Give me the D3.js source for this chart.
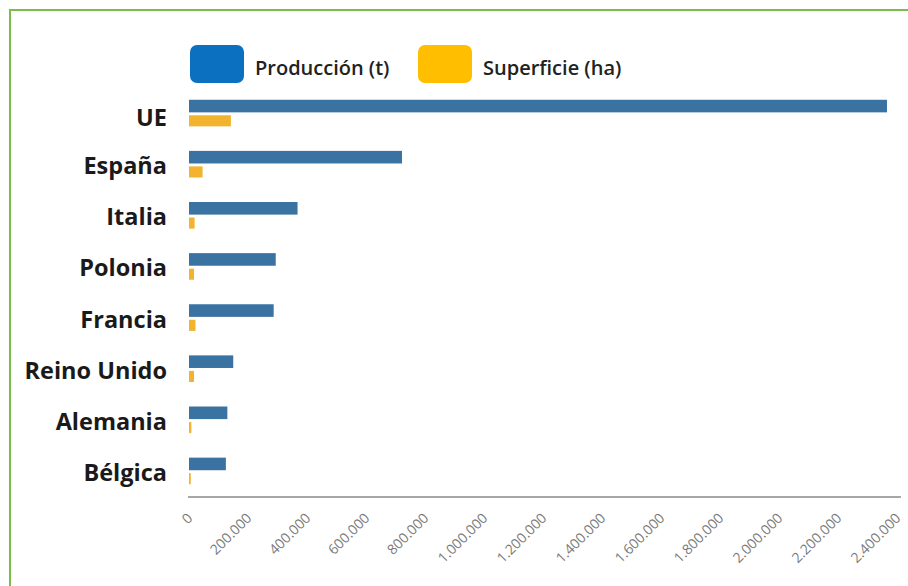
<!DOCTYPE html>
<html>
<head>
<meta charset="utf-8">
<script src="https://cdn.jsdelivr.net/npm/d3@7/dist/d3.min.js"></script>
<style>
  html, body { margin: 0; padding: 0; background: #fff; }
  svg { display: block; }
</style>
</head>
<body>
<svg id="chart" width="908" height="586"></svg>
<script>
// Producción y superficie por país
const countries = ["UE", "España", "Italia", "Polonia", "Francia", "Reino Unido", "Alemania", "Bélgica"];
const production = [2366000, 722000, 368000, 294000, 287000, 150000, 130000, 125000];
const surface = [142000, 46000, 19000, 17000, 22000, 17000, 8000, 6000];
const seriesNames = ["Producción (t)", "Superficie (ha)"];
const barColors = ["#3a72a2", "#f2b32e"];
const legendColors = ["#0b70c0", "#ffbf00"];
const xTicks = [0, 200000, 400000, 600000, 800000, 1000000, 1200000, 1400000,
                1600000, 1800000, 2000000, 2200000, 2400000];

const FONT = "'Open Sans', Lato, sans-serif";
const svg = d3.select("#chart");
const W = 908, H = 586;

// green frame running off the right and bottom edges
svg.append("rect")
  .attr("x", 10).attr("y", 10)
  .attr("width", W).attr("height", H)
  .attr("fill", "none")
  .attr("stroke", "#7bbd4c")
  .attr("stroke-width", 2);

const x = d3.scaleLinear().domain([0, 2400000]).range([189, 897]);
const axisY = 497;

const y = d3.scaleBand()
  .domain(countries)
  .range([88, axisY])
  .paddingInner(0.46)
  .paddingOuter(0.23);

const inner = d3.scaleBand()
  .domain([0, 1])
  .range([0, y.bandwidth()])
  .paddingInner(0.22);

const rows = countries.map((c, i) => ({ c, vals: [production[i], surface[i]] }));

const g = svg.append("g");
const rowG = g.selectAll("g.row").data(rows).join("g")
  .attr("class", "row")
  .attr("transform", d => `translate(0,${y(d.c)})`);

rowG.selectAll("rect").data(d => d.vals).join("rect")
  .attr("x", x(0))
  .attr("y", (d, i) => inner(i))
  .attr("width", d => Math.max(1.5, x(d) - x(0)))
  .attr("height", (d, i) => i === 0 ? inner.bandwidth() + 0.5 : inner.bandwidth() - 1)
  .attr("fill", (d, i) => barColors[i]);

// category labels
g.selectAll("text.cat").data(countries).join("text")
  .attr("class", "cat")
  .attr("x", 167)
  .attr("y", d => y(d) + y.bandwidth() / 2 + (d === "UE" ? 4 : 1))
  .attr("dy", "0.36em")
  .attr("text-anchor", "end")
  .attr("font-family", FONT)
  .attr("font-weight", 700)
  .attr("font-size", 23.5)
  .attr("fill", "#1a1a1a")
  .text(d => d);

// x axis
const fmt = v => v === 0 ? "0" : d3.format(",")(v).replace(/,/g, ".");
const axis = d3.axisBottom(x).tickValues(xTicks).tickSize(0).tickFormat(fmt);
const ax = svg.append("g").attr("transform", `translate(0,${axisY})`).call(axis);
ax.select(".domain").attr("stroke", "#8a8a8a").attr("stroke-width", 1.6)
  .attr("d", `M${x(0) - 1},0H${x(2400000) + 4}`);
ax.selectAll(".tick text")
  .attr("font-family", FONT)
  .attr("font-size", 14)
  .attr("fill", "#7a7a7a")
  .attr("text-anchor", "end")
  .attr("y", 0).attr("dy", 0)
  .attr("transform", "translate(4,22) rotate(-45)");

// legend
const legend = svg.append("g");
const legendX = [190, 418];
seriesNames.forEach((name, i) => {
  legend.append("rect")
    .attr("x", legendX[i]).attr("y", 45)
    .attr("width", 54).attr("height", 38)
    .attr("rx", 7)
    .attr("fill", legendColors[i]);
  legend.append("text")
    .attr("x", legendX[i] + 65).attr("y", 68)
    .attr("dy", "0.36em")
    .attr("font-family", FONT)
    .attr("font-weight", 600)
    .attr("font-size", 20)
    .attr("fill", "#222")
    .text(name);
});
</script>
</body>
</html>
